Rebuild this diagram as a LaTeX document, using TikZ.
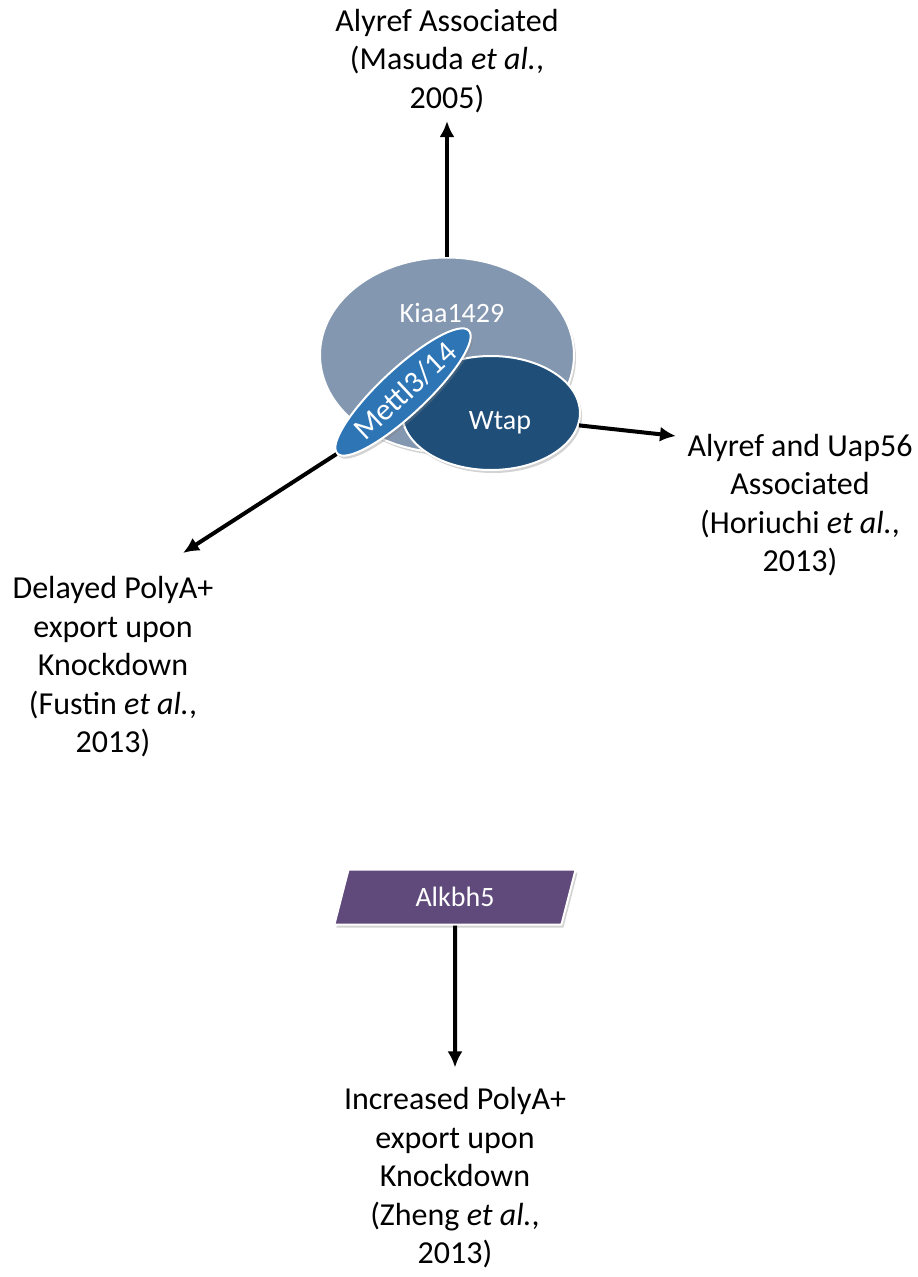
\documentclass[tikz,border=0pt]{standalone}
\usepackage{fontspec}
\setmainfont{Carlito}
\usepackage{tikz}
\usetikzlibrary{shapes.geometric,arrows.meta,positioning,shadows}

\definecolor{kiaablue}{HTML}{8497B0}
\definecolor{wtapblue}{HTML}{1F4E79}
\definecolor{mettlblue}{HTML}{2E75B6}
\definecolor{alkbhpurple}{HTML}{604A7B}

\begin{document}
\begin{tikzpicture}[x=1pt, y=-1pt,
    lbl/.style={align=center, inner sep=0pt, font=\fontsize{32}{38.5}\selectfont},
    blob/.style={ellipse, draw=white, line width=2pt, inner sep=0pt,
        drop shadow={opacity=0.35, shadow xshift=2pt, shadow yshift=-3pt}},
    intxt/.style={text=white, inner sep=0pt, font=\fontsize{28}{30}\selectfont},
    arr/.style={line width=4pt, -{Latex[length=16pt,width=15pt]}}]
    \useasboundingbox (0,0) rectangle (918,1277);

    % the writer complex
    \node[blob, fill=kiaablue, minimum width=254pt, minimum height=195pt] (kiaa) at (447,355) {};
    \node[blob, fill=wtapblue, minimum width=178pt, minimum height=114pt] (wtap) at (491,413) {};
    \node[blob, fill=mettlblue, minimum width=180pt, minimum height=46pt, rotate=43] (mettl) at (403,392) {};
    \node[intxt] (kiaatxt) at (452,313) {Kiaa1429};
    \node[intxt] (wtaptxt) at (500,423) {Wtap};
    \node[intxt, rotate=43, font=\fontsize{31}{32}\selectfont] (mettltxt) at (405,391) {Mettl3/14};

    % the eraser
    \node[trapezium, trapezium left angle=75, trapezium right angle=105, trapezium stretches=true,
        minimum width=243pt, minimum height=55pt, fill=alkbhpurple, draw=white, line width=2pt,
        intxt, drop shadow={opacity=0.35, shadow xshift=2pt, shadow yshift=-3pt}] (alkbh) at (455,897) {Alkbh5};

    % labels
    \node[lbl] (masuda) at (447,61) {Alyref Associated\\(Masuda \textit{et al.},\\2005)};
    \node[lbl] (horiuchi) at (800,505) {Alyref and Uap56\\Associated\\(Horiuchi \textit{et al.},\\2013)};
    \node[lbl] (fustin) at (113,667) {Delayed PolyA+\\export upon\\Knockdown\\(Fustin \textit{et al.},\\2013)};
    \node[lbl] (zheng) at (455,1178) {Increased PolyA+\\export upon\\Knockdown\\(Zheng \textit{et al.},\\2013)};

    \coordinate (uaptip) at (676,436);
    \coordinate (fustintip) at (183,553);

    \draw[arr, shorten >=8pt] (kiaa.north) -- (masuda.south);
    \draw[arr] (wtap.-8) -- (uaptip);
    \draw[arr] (mettl.west) -- (fustintip);
    \draw[arr, shorten >=20pt] (alkbh.south) -- (zheng.north);
\end{tikzpicture}
\end{document}
